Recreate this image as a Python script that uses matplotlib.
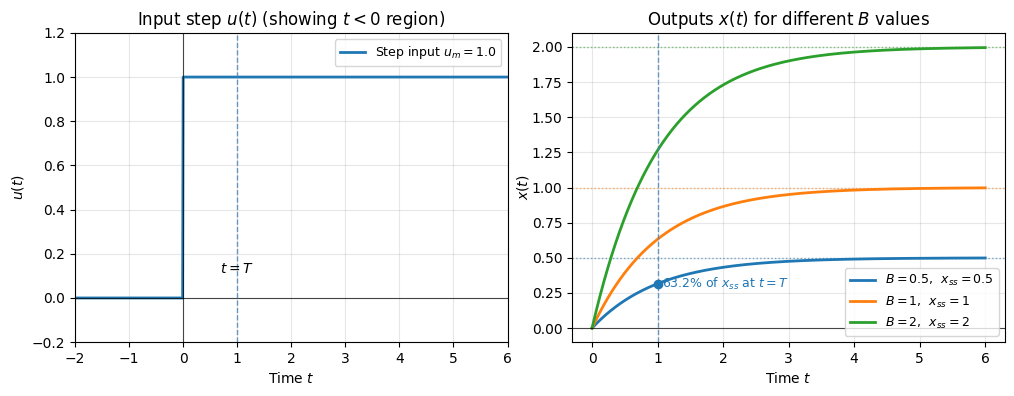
import numpy as np
import matplotlib
matplotlib.use("Agg")
import matplotlib.pyplot as plt

# parameters
T = 1.0
u_m = 1.0
B_values = [0.5, 1, 2]
colors = ['C0', 'C1', 'C2']
t_in = np.linspace(-2, 6, 801)
t_out = np.linspace(0, 6, 601)

fig, (ax1, ax2) = plt.subplots(1, 2, figsize=(10.14, 3.96), dpi=100)

# input step
u = np.where(t_in >= 0, u_m, 0.0)
ax1.plot(t_in, u, color='C0', lw=2, label=rf'Step input $u_m = {u_m}$')
ax1.axhline(0, color='k', lw=0.8, alpha=0.7)
ax1.axvline(0, color='k', lw=0.8, alpha=0.7)
ax1.axvline(T, color='steelblue', ls='--', lw=1, alpha=0.8)
ax1.text(T, 0.13, r'$t = T$', ha='center', va='center', fontsize=10)
ax1.set_xlim(-2, 6)
ax1.set_ylim(-0.2, 1.2)
ax1.set_xlabel(r'Time $t$')
ax1.set_ylabel(r'$u(t)$')
ax1.set_title(r'Input step $u(t)$ (showing $t<0$ region)')
ax1.grid(True, alpha=0.3)
ax1.legend(loc='upper right', fontsize=9)

# outputs
for B, c in zip(B_values, colors):
    x = B * u_m * (1 - np.exp(-t_out / T))
    ax2.plot(t_out, x, color=c, lw=2, label=rf'$B = {B}$,  $x_{{ss}} = {B}$')
    ax2.axhline(B * u_m, color=c, ls=':', lw=1, alpha=0.6)
ax2.axhline(0, color='k', lw=0.8, alpha=0.7)
ax2.axvline(T, color='steelblue', ls='--', lw=1, alpha=0.8)
x_T = B_values[0] * u_m * (1 - np.exp(-1))
ax2.plot([T], [x_T], 'o', color='C0', ms=6)
ax2.text(T + 0.07, x_T, r'63.2% of $x_{ss}$ at $t = T$', color='C0',
         fontsize=9, va='center')
ax2.set_ylim(-0.1, 2.1)
ax2.set_xlabel(r'Time $t$')
ax2.set_ylabel(r'$x(t)$', labelpad=1)
ax2.set_title(r'Outputs $x(t)$ for different $B$ values')
ax2.grid(True, alpha=0.3)
ax2.legend(loc='lower right', fontsize=9)

plt.subplots_adjust(left=0.074, right=0.991, top=0.917, bottom=0.136, wspace=0.15)
plt.savefig('out.png')
